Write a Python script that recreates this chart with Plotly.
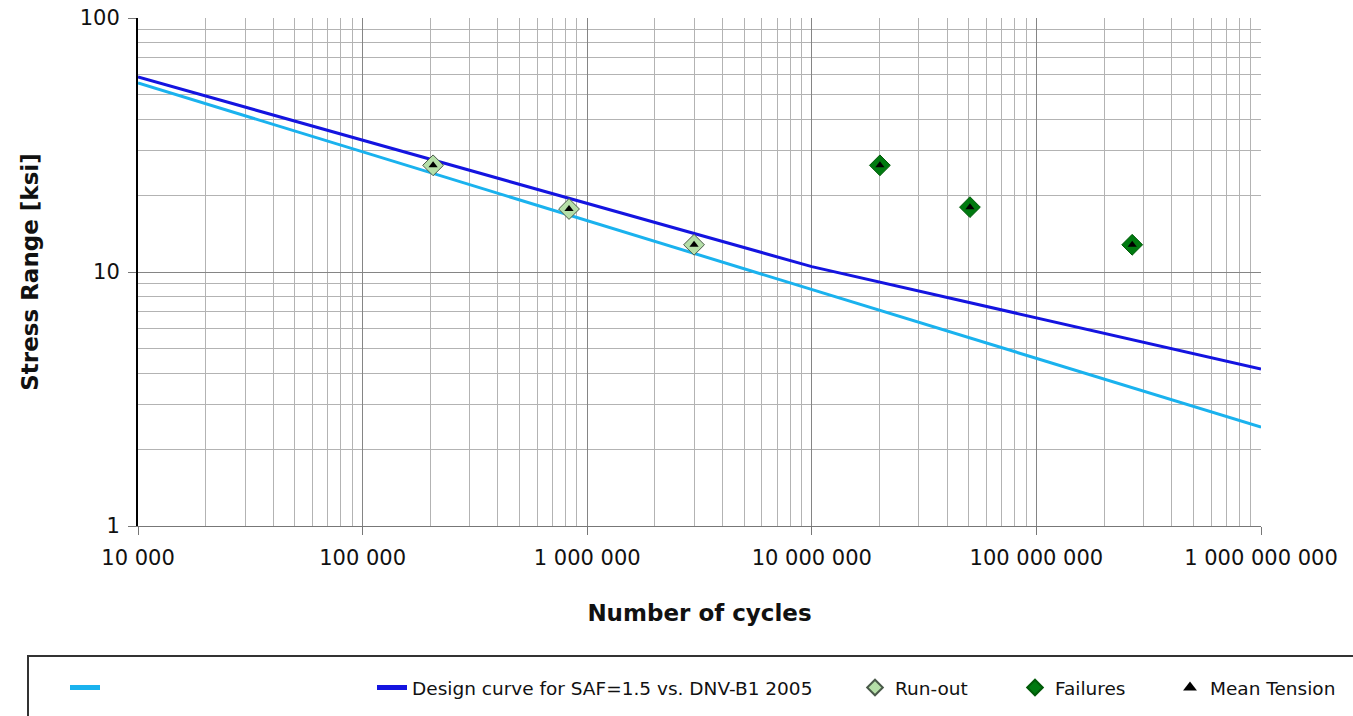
import plotly.graph_objects as go

# ---- data ----
cyan_x = [1e4, 1e9]
cyan_y = [55.5, 2.45]

design_x = [1e4, 1e7, 1e9]
design_y = [58.6, 10.5, 4.15]

runout_x = [2.06e5, 8.3e5, 2.99e6]
runout_y = [26.3, 17.7, 12.8]

fail_x = [2.01e7, 5.06e7, 2.67e8]
fail_y = [26.3, 18.0, 12.8]

mean_x = runout_x + fail_x
mean_y = runout_y + fail_y

x_tickvals = [1e4, 1e5, 1e6, 1e7, 1e8, 1e9]
x_ticktext = ["10 000", "100 000", "1 000 000", "10 000 000", "100 000 000", "1 000 000 000"]
y_tickvals = [1, 10, 100]
y_ticktext = ["1", "10", "100"]

names = ["\u00a0", "Design curve for SAF=1.5 vs. DNV-B1 2005", "Run-out", "Failures", "Mean Tension"]

W, H = 1353, 716
L, R, T, B = 138, 1261, 18, 526

def px2x(p):
    return (p - L) / (R - L)

def py2y(p):
    return (B - p) / (B - T)

FONT = "DejaVu Sans"

fig = go.Figure()
fig.add_trace(go.Scatter(x=cyan_x, y=cyan_y, mode="lines", name=names[0], showlegend=True,
                         line=dict(color="#1ab2ee", width=3), legend="legend6"))
fig.add_trace(go.Scatter(x=design_x, y=design_y, mode="lines", name=names[1], showlegend=True,
                         line=dict(color="#1414e0", width=3), legend="legend2"))
fig.add_trace(go.Scatter(x=runout_x, y=runout_y, mode="markers", name=names[2], showlegend=True,
                         marker=dict(symbol="diamond", size=16, color="#b5dfa8",
                                     line=dict(color="#4a5a4a", width=1)), legend="legend3"))
fig.add_trace(go.Scatter(x=fail_x, y=fail_y, mode="markers", name=names[3], showlegend=True,
                         marker=dict(symbol="diamond", size=16, color="#007a10",
                                     line=dict(color="#005a08", width=1)), legend="legend4"))
fig.add_trace(go.Scatter(x=mean_x, y=mean_y, mode="markers", name=names[4], showlegend=True,
                         marker=dict(symbol="triangle-up", size=8, color="black"), legend="legend5"))

leg_y = py2y(688)
leg_common = dict(orientation="h", yanchor="middle", xanchor="left", y=leg_y,
                  bgcolor="rgba(0,0,0,0)", font=dict(family=FONT, size=18.5, color="#111"),
                  itemsizing="constant")

fig.update_layout(
    width=W, height=H,
    margin=dict(l=L, r=W - R, t=T, b=H - B, autoexpand=False),
    paper_bgcolor="white", plot_bgcolor="white",
    font=dict(family=FONT, size=21, color="#111"),
    showlegend=True,
    legend6=dict(x=px2x(65), **leg_common),
    legend2=dict(x=px2x(372), **leg_common),
    legend3=dict(x=px2x(855), **leg_common),
    legend4=dict(x=px2x(1015), **leg_common),
    legend5=dict(x=px2x(1170), **leg_common),
    xaxis=dict(type="log", range=[4, 9], tickvals=x_tickvals, ticktext=x_ticktext,
               automargin=False,
               showgrid=True, gridcolor="#858585", gridwidth=1.3,
               minor=dict(dtick="D1", showgrid=True, gridcolor="#b3b3b3", gridwidth=1, ticks=""),
               ticks="outside", ticklen=8, tickcolor="#777", showline=True, linecolor="#777",
               linewidth=1.3, zeroline=False, ticklabelstandoff=5,
               tickfont=dict(family=FONT, size=21),
               title=dict(text="<b>Number of cycles</b>", font=dict(family=FONT, size=23), standoff=35)),
    yaxis=dict(type="log", range=[0, 2], tickvals=y_tickvals, ticktext=y_ticktext,
               automargin=False,
               showgrid=True, gridcolor="#858585", gridwidth=1.3,
               minor=dict(dtick="D1", showgrid=True, gridcolor="#b3b3b3", gridwidth=1, ticks=""),
               ticks="outside", ticklen=8, tickcolor="#777", showline=True, linecolor="black",
               linewidth=2, zeroline=False, ticklabelstandoff=4,
               tickfont=dict(family=FONT, size=21),
               title=dict(text="<b>Stress Range [ksi]</b>", font=dict(family=FONT, size=23), standoff=35)),
    shapes=[dict(type="rect", xref="paper", yref="paper",
                 x0=px2x(28), x1=px2x(1360), y0=py2y(656), y1=py2y(730),
                 line=dict(color="#333", width=2), fillcolor="rgba(0,0,0,0)", layer="below")],
)

fig.write_html("out.html", config={"displayModeBar": False},
               post_script="document.body.style.margin='0';")
